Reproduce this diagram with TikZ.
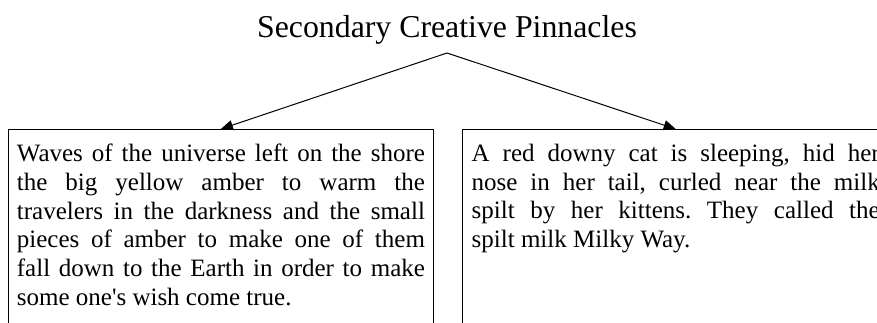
\documentclass[tikz,border=0pt]{standalone}
\usepackage{fontspec}
\setmainfont{Liberation Serif}[Ligatures=TeXOff]
\usetikzlibrary{arrows.meta,positioning}
\frenchspacing
\tikzset{
    heading/.style={font=\fontsize{15.9}{18}\selectfont},
    story/.style={text width=204pt, align=justify, inner xsep=4.25pt, inner ysep=7.35pt,
        font=\fontsize{12.5}{14.35}\selectfont},
    frame/.style={line width=0.5pt},
    link/.style={-{Triangle[length=6pt,width=5pt]}, line width=0.5pt},
}

\begin{document}
\begin{tikzpicture}[x=0.5pt,y=-0.5pt]
    \useasboundingbox (0,0) rectangle (877,322);
    \clip (0,0) rectangle (877,322);
    \node[heading, anchor=base] (title) at (447,37.3) {Secondary Creative Pinnacles};
    \coordinate (fork) at (447,53);
    % the two stories
    \node[story, anchor=north west] (amber) at (8,129) {Waves of the universe left on the shore\linebreak
        the big yellow amber to warm the\linebreak
        travelers in the darkness and the small\linebreak
        pieces of amber to make one of them\linebreak
        fall down to the Earth in order to make\linebreak
        some one's wish come true.};
    \node[story, right=14.5pt of amber.north east, anchor=north west] (cat) {A red downy cat is sleeping, hid her\linebreak
        nose in her tail, curled near the milk\linebreak
        spilt by her kittens. They called the\linebreak
        spilt milk Milky Way.};
    % open frames, cut off at the bottom
    \draw[frame] (amber.north west) ++(0,220) -- (amber.north west) -- (amber.north east) -- ++(0,220);
    \draw[frame] (cat.north west) ++(0,220) -- (cat.north west) -- (cat.north east) -- ++(0,220);
    \draw[link] (fork) -- (amber.north);
    \draw[link] (fork) -- (cat.north);
\end{tikzpicture}
\end{document}
